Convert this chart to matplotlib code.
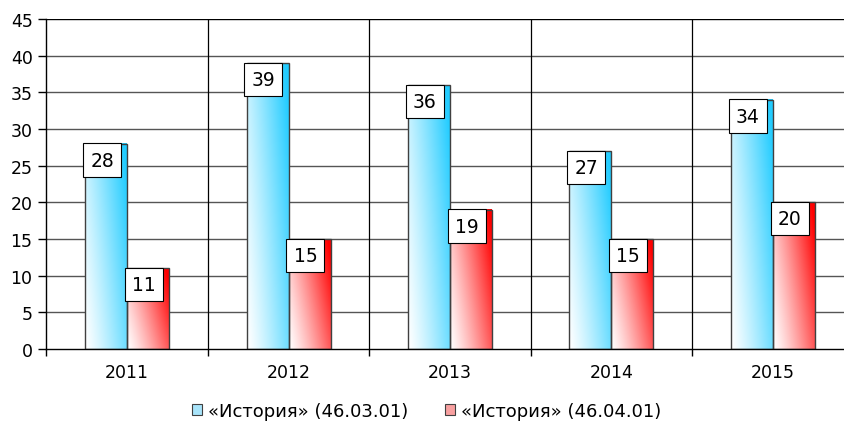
import numpy as np
import matplotlib
matplotlib.use("Agg")
import matplotlib.pyplot as plt
from matplotlib.patches import Patch, Rectangle
from matplotlib.colors import to_rgb

years = ["2011", "2012", "2013", "2014", "2015"]
series_names = ["«История» (46.03.01)", "«История» (46.04.01)"]
values_0301 = [28, 39, 36, 27, 34]
values_0401 = [11, 15, 19, 15, 20]
yticks = [0, 5, 10, 15, 20, 25, 30, 35, 40, 45]

blue = "#22CCFF"
red = "#FF0000"

plt.rcParams['font.family'] = ['DejaVu Sans']
fig = plt.figure(figsize=(8.45, 4.35), dpi=100)
ax = fig.add_axes([46.5 / 845, 85 / 435, 807 / 845, 330 / 435])

def gradient_img(color, n=64):
    c = np.array(to_rgb(color))
    xf = np.linspace(0, 1, n)[None, :]
    yf = np.linspace(1, 0, n)[:, None]  # row 0 = top
    t = np.clip(0.7 * xf + 0.35 * yf, 0, 1) ** 1.2
    t = t / t.max()
    img = (1 - t[..., None]) * 1.0 + t[..., None] * c[None, None, :]
    return img

bw = 0.26
x = np.arange(len(years))
for vals, color, off in [(values_0301, blue, -bw), (values_0401, red, 0.0)]:
    img = gradient_img(color)
    for xi, v in zip(x, vals):
        x0 = xi + off
        ax.imshow(img, extent=[x0, x0 + bw, 0, v], aspect='auto', zorder=3,
                  interpolation='bilinear')
        ax.add_patch(Rectangle((x0, 0), bw, v, facecolor='none',
                               edgecolor='#404040', linewidth=1.0, zorder=4))
        ax.annotate(str(v), xy=(x0 + bw / 2, v), xytext=(-3, -5),
                    textcoords='offset points', ha='center', va='top',
                    fontsize=13.5, zorder=6,
                    bbox=dict(boxstyle='square,pad=0.38', facecolor='white',
                              edgecolor='black', linewidth=0.8))

ax.set_xlim(-0.5, len(years) - 0.5)
ax.set_ylim(0, 45)
ax.set_yticks(yticks)
ax.set_yticklabels([str(t) for t in yticks], fontsize=12.5)
ax.set_xticks(x)
ax.set_xticklabels(years, fontsize=12.5)
ax.set_xticks(np.arange(len(years) + 1) - 0.5, minor=True)
ax.tick_params(axis='x', which='major', length=0, pad=10)
ax.tick_params(axis='x', which='minor', length=5, width=1, color='black')
ax.tick_params(axis='y', length=6, width=1, color='black', pad=4)

for t in yticks[1:]:
    ax.axhline(t, color='#000000' if t == 45 else '#555555', linewidth=1.0, zorder=1)
for b in np.arange(1, len(years)) - 0.5:
    ax.axvline(b, color='#000000', linewidth=0.9, zorder=1)

for s in ['top', 'right']:
    ax.spines[s].set_visible(False)
ax.spines['left'].set_color('black')
ax.spines['bottom'].set_color('black')
ax.spines['left'].set_linewidth(1.0)
ax.spines['bottom'].set_linewidth(1.0)
ax.spines['bottom'].set_zorder(5)

handles = [Patch(facecolor='#A8E4FA', edgecolor='#404040', linewidth=0.8),
           Patch(facecolor='#F8A0A0', edgecolor='#404040', linewidth=0.8)]
fig.legend(handles, series_names, loc='center', bbox_to_anchor=(0.505, 23 / 435),
           ncol=2, frameon=False, fontsize=13, handlelength=0.55, handleheight=0.55,
           handletextpad=0.35, columnspacing=2.0)

fig.savefig("out.png", dpi=100)
